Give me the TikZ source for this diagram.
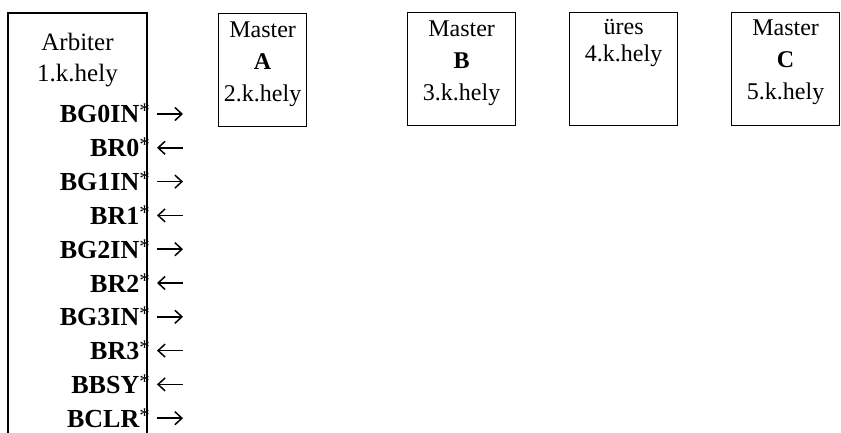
\documentclass[tikz,border=0pt]{standalone}
\usepackage{fontspec}
\setmainfont{Liberation Serif}
\usetikzlibrary{arrows.meta}
\newcommand{\sigstar}{\raisebox{5pt}{\fontsize{21}{21}\selectfont\mdseries *}}
\begin{document}
\begin{tikzpicture}[x=1pt,y=-1pt,
  slotbox/.style={draw,line width=1.2pt,minimum width=108pt,minimum height=113pt,
    anchor=north west,inner sep=0pt},
  slottext/.style={align=center,font=\fontsize{24}{32}\selectfont,anchor=north,inner sep=0pt},
  arbtext/.style={align=center,font=\fontsize{25}{31}\selectfont,anchor=north,inner sep=0pt},
  sig/.style={font=\fontsize{26}{26}\selectfont\bfseries,anchor=base east,inner sep=0pt},
  sigarrow/.style={line width=1.6pt},
  rarr/.style={sigarrow,-{Straight Barb[length=7pt,width=13pt,line width=1.5pt]}},
  larr/.style={sigarrow,{Straight Barb[length=7pt,width=13pt,line width=1.5pt]}-},
]
\useasboundingbox (0,0) rectangle (841,433);

% arbiter slot: open at the bottom
\draw[line width=1.4pt] (8,433) -- (8,13) -- (147,13) -- (147,433);
\node[arbtext] (arb) at (77.5,33) {Arbiter\\1.k.hely};

% master slots
\node[slotbox,minimum width=88pt] (sA) at (218,13) {};
\node[slotbox] (sB) at (407,12) {};
\node[slotbox] (sE) at (569,12) {};
\node[slotbox] (sC) at (731,12) {};
\node[slottext] (tA) at ([yshift=-9pt]sA.north) {Master\\\textbf{A}\\2.k.hely};
\node[slottext] (tB) at ([yshift=-9pt]sB.north) {Master\\\textbf{B}\\3.k.hely};
\node[slottext,font=\fontsize{24}{27}\selectfont] (tE) at ([yshift=-7pt]sE.north) {üres\\4.k.hely};
\node[slottext] (tC) at ([yshift=-8pt]sC.north) {Master\\\textbf{C}\\5.k.hely};

% bus signals of the arbiter with their directions
\foreach \name/\dir [count=\i from 0] in
  {BG0IN/r,BR0/l,BG1IN/r,BR1/l,BG2IN/r,BR2/l,BG3IN/r,BR3/l,BBSY/l,BCLR/r}{
  \pgfmathsetmacro{\yy}{114+33.8*\i}
  \node[sig] (s\i) at (150,\yy+9) {\name\sigstar};
  \coordinate (a\i) at (157,\yy);
  \coordinate (b\i) at (183,\yy);
  \if r\dir
    \draw[rarr] (a\i) -- (b\i);
  \else
    \draw[larr] (a\i) -- (b\i);
  \fi
}
\end{tikzpicture}
\end{document}
